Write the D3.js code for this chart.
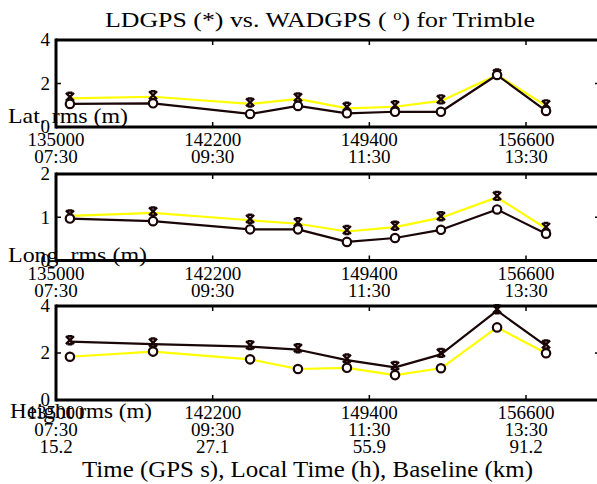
<!DOCTYPE html>
<html>
<head>
<meta charset="utf-8">
<script src="https://cdn.jsdelivr.net/npm/d3@7"></script>
</head>
<body style="margin:0">
<svg width="597" height="484"></svg>
<script>
// GPS time of each session (s)
var gpsTime = [135640, 139460, 143920, 146120, 148370, 150580, 152690, 155270, 157520];

// rms values (m), LDGPS (*) and WADGPS (o)
var latLD = [1.32, 1.39, 1.06, 1.29, 0.86, 0.93, 1.20, 2.39, 0.97];
var latWAD = [1.06, 1.09, 0.60, 0.97, 0.63, 0.70, 0.70, 2.39, 0.74];
var longLD = [1.03, 1.10, 0.93, 0.85, 0.67, 0.77, 0.99, 1.46, 0.74];
var longWAD = [0.97, 0.91, 0.72, 0.72, 0.43, 0.52, 0.71, 1.18, 0.62];
var heightLD = [2.48, 2.38, 2.27, 2.14, 1.70, 1.39, 1.94, 3.80, 2.30];
var heightWAD = [1.84, 2.06, 1.73, 1.32, 1.37, 1.06, 1.35, 3.09, 1.99];

// tick labels
var xTicks = [135000, 142200, 149400, 156600];
var localTime = ['07:30', '09:30', '11:30', '13:30'];
var baselineKm = ['15.2', '27.1', '55.9', '91.2'];

var YELLOW = '#ffff00';
var DARK = '#1a0606';

var svg = d3.select('svg');

var x = d3.scaleLinear().domain([135000, 160000]).range([56, 600]);

//Panel setup
var panels = [
  { name: 'Lat. rms (m)', ld: latLD, wad: latWAD, max: 4, yTicks: [0, 2, 4], top: 40, bottom: 127,
    ldColor: YELLOW, wadColor: DARK, labelX: 8, labelY: 123, labelW: 120, rows: [localTime] },
  { name: 'Long. rms (m)', ld: longLD, wad: longWAD, max: 2, yTicks: [0, 1, 2], top: 174, bottom: 260.5,
    ldColor: YELLOW, wadColor: DARK, labelX: 8, labelY: 262, labelW: 139, rows: [localTime] },
  { name: 'Height rms (m)', ld: heightLD, wad: heightWAD, max: 4, yTicks: [0, 2, 4], top: 306, bottom: 400,
    ldColor: DARK, wadColor: YELLOW, labelX: 10, labelY: 418, labelW: 142, rows: [localTime, baselineKm] }
];

//Text helper, serif font on every text
function addText(sel, size) {
  return sel.append('text')
    .style('font-family', function () { return "'Liberation Serif'"; })
    .attr('font-size', size);
}

//Marker for the * series
function starPath(s) {
  var c = s * 0.6;
  return 'M' + -s + ',' + -s + 'L' + s + ',' + s +
    'M' + s + ',' + -s + 'L' + -s + ',' + s +
    'M' + -c + ',' + -s + 'L' + c + ',' + -s +
    'M' + -c + ',' + s + 'L' + c + ',' + s;
}

panels.forEach(function (p) {
  var y = d3.scaleLinear().domain([0, p.max]).range([p.bottom, p.top]);
  var g = svg.append('g');

  var line = d3.line()
    .x(function (d, i) { return x(gpsTime[i]); })
    .y(function (d) { return y(d); });

  // draw yellow first, dark on top
  var series = [
    { values: p.ld, color: p.ldColor, mark: 'star' },
    { values: p.wad, color: p.wadColor, mark: 'circle' }
  ].sort(function (a, b) { return a.color === YELLOW ? -1 : (b.color === YELLOW ? 1 : 0); });

  series.forEach(function (s) {
    g.append('path')
      .attr('d', line(s.values))
      .attr('fill', 'none')
      .attr('stroke', s.color)
      .attr('stroke-width', 2.2)
      .attr('stroke-linejoin', 'round');
  });

  series.forEach(function (s) {
    if (s.mark === 'circle') {
      g.selectAll(null).data(s.values).enter().append('circle')
        .attr('cx', function (d, i) { return x(gpsTime[i]); })
        .attr('cy', function (d) { return y(d); })
        .attr('r', 4.2)
        .attr('fill', '#fff')
        .attr('stroke', DARK)
        .attr('stroke-width', 2.2);
    } else {
      g.selectAll(null).data(s.values).enter().append('path')
        .attr('transform', function (d, i) { return 'translate(' + x(gpsTime[i]) + ',' + (y(d) - 1.5) + ')'; })
        .attr('d', starPath(4))
        .attr('fill', 'none')
        .attr('stroke', DARK)
        .attr('stroke-width', 2.4);
    }
  });

  //Frame
  var frame = g.append('g').attr('stroke', '#000').attr('stroke-width', 3).attr('fill', 'none');
  frame.append('line').attr('x1', x.range()[0]).attr('x2', 605).attr('y1', p.top).attr('y2', p.top);
  frame.append('line').attr('x1', x.range()[0]).attr('x2', 605).attr('y1', p.bottom).attr('y2', p.bottom);
  frame.append('line').attr('x1', x.range()[0]).attr('x2', x.range()[0]).attr('y1', p.top - 1.5).attr('y2', p.bottom + 1.5);
  frame.append('line').attr('x1', x.range()[1]).attr('x2', x.range()[1]).attr('y1', p.top - 1.5).attr('y2', p.bottom + 1.5);

  //Inward ticks
  var ticks = g.append('g').attr('stroke', '#000').attr('stroke-width', 1.5);
  xTicks.slice(1).forEach(function (t) {
    ticks.append('line').attr('x1', x(t)).attr('x2', x(t)).attr('y1', p.top).attr('y2', p.top + 5);
    ticks.append('line').attr('x1', x(t)).attr('x2', x(t)).attr('y1', p.bottom).attr('y2', p.bottom - 5);
  });
  p.yTicks.slice(1, -1).forEach(function (t) {
    ticks.append('line').attr('x1', x.range()[0]).attr('x2', x.range()[0] + 5).attr('y1', y(t)).attr('y2', y(t));
    ticks.append('line').attr('x1', x.range()[1]).attr('x2', x.range()[1] - 5).attr('y1', y(t)).attr('y2', y(t));
  });

  //Y tick labels
  p.yTicks.forEach(function (t) {
    addText(g, 19)
      .attr('x', 50)
      .attr('y', y(t))
      .attr('dy', '0.34em')
      .attr('text-anchor', 'end')
      .text(t);
  });

  //X tick labels: GPS time then extra rows
  var rows = [xTicks.map(String)].concat(p.rows);
  rows.forEach(function (labels, r) {
    labels.forEach(function (lab, i) {
      addText(g, 19)
        .attr('x', x(xTicks[i]))
        .attr('y', p.bottom + 19 + r * 17)
        .attr('text-anchor', 'middle')
        .text(lab);
    });
  });

  //Y label (drawn flat, as in the source figure)
  addText(g, 22)
    .attr('x', p.labelX)
    .attr('y', p.labelY)
    .attr('textLength', p.labelW)
    .attr('lengthAdjust', 'spacingAndGlyphs')
    .text(p.name);
});

//Title
var title = addText(svg, 22)
  .attr('x', 105)
  .attr('y', 27)
  .attr('textLength', 430)
  .attr('lengthAdjust', 'spacingAndGlyphs');
title.append('tspan').text('LDGPS (*) vs. WADGPS ( ');
title.append('tspan').attr('font-size', 14).attr('dy', -7).text('o');
title.append('tspan').attr('dy', 7).text(') for Trimble');

//X label
addText(svg, 23)
  .attr('x', 82)
  .attr('y', 477)
  .attr('textLength', 451)
  .attr('lengthAdjust', 'spacingAndGlyphs')
  .text('Time (GPS s), Local Time (h), Baseline (km)');
</script>
</body>
</html>
